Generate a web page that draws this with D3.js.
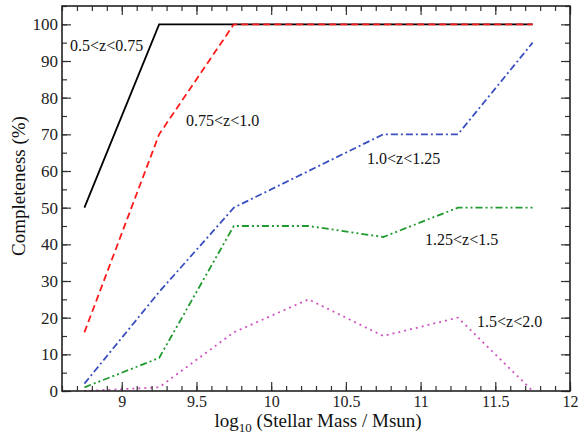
<!DOCTYPE html>
<html><head><meta charset="utf-8">
<script src="https://cdn.jsdelivr.net/npm/d3@7"></script>
<style>body{margin:0;background:#fff}svg{display:block}text{font-family:"Liberation Serif","DejaVu Serif",serif}</style>
</head><body><svg id="c" width="578" height="435"></svg>
<script>
const masses = [8.75, 9.25, 9.75, 10.25, 10.75, 11.25, 11.75];
const s05_075 = [50, 100, 100, 100, 100, 100, 100];
const s075_10 = [16, 70, 100, 100, 100, 100, 100];
const s10_125 = [2, 27, 50, 60, 70, 70, 95];
const s125_15 = [1, 9, 45, 45, 42, 50, 50];
const s15_20 = [0, 1, 16, 25, 15, 20, 0];
const seriesNames = ["0.5<z<0.75", "0.75<z<1.0", "1.0<z<1.25", "1.25<z<1.5", "1.5<z<2.0"];
const xTicks = [9, 9.5, 10, 10.5, 11, 11.5, 12];
const xTickLabels = ["9", "9.5", "10", "10.5", "11", "11.5", "12"];
const yTicks = [0, 10, 20, 30, 40, 50, 60, 70, 80, 90, 100];

const svg = d3.select("#c");
const L = 62, R = 570, T = 6, B = 391;
const x = d3.scaleLinear().domain([8.6, 12]).range([L, R]);
const y = d3.scaleLinear().domain([0, 105]).range([B, T]);

const series = [
  {vals: s05_075, color: "#000000", dash: null, lab: [70, 51]},
  {vals: s075_10, color: "#ff1a1a", dash: "7,4", lab: [186, 126]},
  {vals: s10_125, color: "#3a4fbf", dash: "7,3,2,3", lab: [367, 164]},
  {vals: s125_15, color: "#1f9a2f", dash: "7,3,2,3,2,3", lab: [425, 245]},
  {vals: s15_20, color: "#d054c0", dash: "2,4", lab: [477, 327]}
];

const line = d3.line().x((d, i) => x(masses[i])).y(d => y(d));
series.forEach(s => {
  svg.append("path").attr("d", line(s.vals)).attr("fill", "none")
    .attr("stroke", s.color).attr("stroke-width", 1.8)
    .attr("stroke-dasharray", s.dash);
});

// axes with inward ticks
const minorX = d3.range(8.6, 12.001, 0.1);
const minorY = d3.range(0, 105.001, 5);
const axB = svg.append("g").attr("transform", `translate(0,${B})`)
  .call(d3.axisBottom(x).tickValues(xTicks).tickFormat((d, i) => xTickLabels[i]).tickSizeInner(-9).tickSizeOuter(0).tickPadding(5));
const axBm = svg.append("g").attr("transform", `translate(0,${B})`)
  .call(d3.axisBottom(x).tickValues(minorX).tickFormat("").tickSizeInner(-5).tickSizeOuter(0));
const axT = svg.append("g").attr("transform", `translate(0,${T})`)
  .call(d3.axisTop(x).tickValues(xTicks).tickFormat("").tickSizeInner(-9).tickSizeOuter(0));
const axTm = svg.append("g").attr("transform", `translate(0,${T})`)
  .call(d3.axisTop(x).tickValues(minorX).tickFormat("").tickSizeInner(-5).tickSizeOuter(0));
const axL = svg.append("g").attr("transform", `translate(${L},0)`)
  .call(d3.axisLeft(y).tickValues(yTicks).tickSizeInner(-9).tickSizeOuter(0).tickPadding(4));
const axLm = svg.append("g").attr("transform", `translate(${L},0)`)
  .call(d3.axisLeft(y).tickValues(minorY).tickFormat("").tickSizeInner(-5).tickSizeOuter(0));
const axR = svg.append("g").attr("transform", `translate(${R},0)`)
  .call(d3.axisRight(y).tickValues(yTicks).tickFormat("").tickSizeInner(-9).tickSizeOuter(0));
const axRm = svg.append("g").attr("transform", `translate(${R},0)`)
  .call(d3.axisRight(y).tickValues(minorY).tickFormat("").tickSizeInner(-5).tickSizeOuter(0));
[axB, axBm, axT, axTm, axL, axLm, axR, axRm].forEach(g => {
  g.select(".domain").remove();
  g.selectAll("line").attr("stroke", "#333").attr("stroke-width", 1.2);
  g.selectAll("text").attr("font-family", "Liberation Serif, serif").attr("font-size", 17).attr("fill", "#222");
});
axB.selectAll("text").attr("font-size", 16);
svg.append("rect").attr("x", L).attr("y", T).attr("width", R - L).attr("height", B - T)
  .attr("fill", "none").attr("stroke", "#222").attr("stroke-width", 1.6);

// series labels
series.forEach((s, i) => {
  svg.append("text").attr("x", s.lab[0]).attr("y", s.lab[1]).attr("font-size", 16).attr("fill", "#111")
    .text(seriesNames[i]);
});

// axis titles
const xt = svg.append("text").attr("x", 318).attr("y", 427).attr("text-anchor", "middle")
  .attr("font-size", 19).attr("fill", "#111");
xt.append("tspan").text("log");
xt.append("tspan").attr("font-size", 13).attr("dy", 5).text("10");
xt.append("tspan").attr("dy", -5).text(" (Stellar Mass / Msun)");
svg.append("text").attr("transform", `translate(25,186) rotate(-90)`)
  .attr("text-anchor", "middle").attr("font-size", 19).attr("fill", "#111")
  .text("Completeness  (%)");
</script></body></html>
